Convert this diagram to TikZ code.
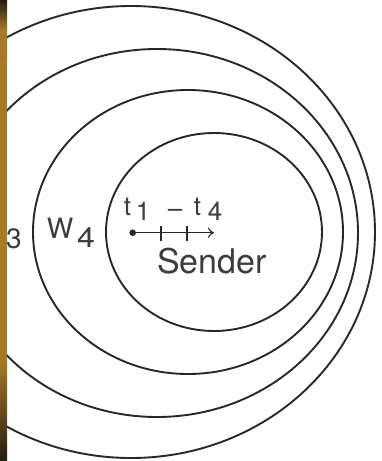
\documentclass[tikz,border=0pt]{standalone}
\usepackage{fontspec}
\setmainfont{TeX Gyre Heros}
\usetikzlibrary{arrows.meta}
\begin{document}
\begin{tikzpicture}[x=1pt,y=-1pt,
  ring/.style={draw=ink,line width=1.9pt},
  lbl/.style={inner sep=0pt,anchor=base,text=txt},
  tick/.style={draw=ink,line width=1.1pt}]
\definecolor{ink}{RGB}{40,40,40}
\definecolor{txt}{RGB}{60,60,60}
\definecolor{gold}{RGB}{168,122,38}
\definecolor{darkstrip}{RGB}{35,28,18}
\useasboundingbox (0,0) rectangle (381,461);
\fill[white] (0,0) rectangle (381,461);
% rings
\draw[ring] (131,232) ellipse [x radius=244, y radius=226];
\draw[ring] (157,233) ellipse [x radius=201, y radius=184];
\draw[ring] (188,232) ellipse [x radius=155, y radius=142];
\draw[ring] (214,232) ellipse [x radius=108, y radius=99];
% labels
\node[lbl,font=\fontsize{28}{28}\selectfont] (three) at (14,248) {3};
\node[lbl,font=\fontsize{28}{28}\selectfont] (w) at (60,238) {W};
\node[lbl,font=\fontsize{28}{28}\selectfont,xscale=1.15] (wsub) at (86,247) {4};
\node[lbl,font=\fontsize{26}{26}\selectfont] (ta) at (127.5,215) {t};
\node[lbl,font=\fontsize{26}{26}\selectfont] (one) at (143,220) {1};
\node[lbl,font=\fontsize{26}{26}\selectfont] (dash) at (175,217) {–};
\node[lbl,font=\fontsize{26}{26}\selectfont] (tb) at (197.5,215) {t};
\node[lbl,font=\fontsize{26}{26}\selectfont] (four) at (215,220) {4};
\node[lbl,anchor=base west,font=\fontsize{34}{34}\selectfont] (sender) at (157,273) {Sender};
% sender motion
\fill[ink] (132.7,232.7) circle [radius=3.3];
\coordinate (start) at (132.7,232.7);
\coordinate (tip) at (214,232.7);
\draw[ink,line width=1.1pt,-{To[length=6pt,width=10pt]}] (start) -- (tip);
\draw[tick] (161,226) -- (161,241);
\draw[tick] (187,226) -- (187,241);
% photo edge strip
\shade[top color=darkstrip,bottom color=gold,middle color=gold] (0,0) rectangle (7,60);
\fill[gold] (0,60) rectangle (7,360);
\shade[top color=gold,bottom color=darkstrip] (0,360) rectangle (7,461);
\end{tikzpicture}
\end{document}
